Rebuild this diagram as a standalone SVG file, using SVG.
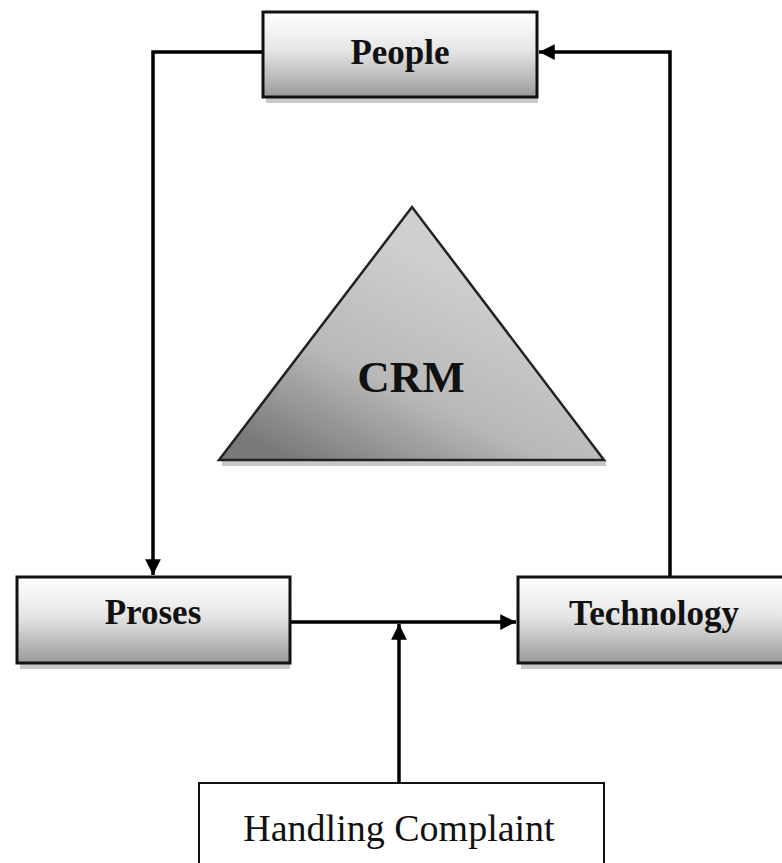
<svg xmlns="http://www.w3.org/2000/svg" width="782" height="863" viewBox="0 0 782 863">
<style>
.box{stroke:#111;stroke-width:3;fill:url(#boxg)}
.shadow{fill:#c8c8c8}
.lbl{font-family:"Liberation Serif","Times New Roman",serif;font-weight:bold;font-size:35px;fill:#111;text-anchor:middle}
.con{stroke:#000;stroke-width:3.5;fill:none}
</style>
<defs>
<linearGradient id="boxg" x1="0" y1="0" x2="0" y2="1">
<stop offset="0" stop-color="#ffffff"/>
<stop offset="0.45" stop-color="#e6e6e6"/>
<stop offset="1" stop-color="#9a9a9a"/>
</linearGradient>
<linearGradient id="trig" x1="0.2" y1="1" x2="0.7" y2="0.3">
<stop offset="0" stop-color="#7a7a7a"/>
<stop offset="0.45" stop-color="#b8b8b8"/>
<stop offset="1" stop-color="#cfcfcf"/>
</linearGradient>
<marker id="ah" viewBox="0 0 10 10" refX="10" refY="5" markerWidth="4.5" markerHeight="4.5" orient="auto" markerUnits="strokeWidth">
<path d="M0,0 L10,5 L0,10 z" fill="#000"/>
</marker>
</defs>
<g id="connectors">
<path class="con" d="M263,52 H153 V575" marker-end="url(#ah)"/>
<path class="con" d="M670,577 V52 H539" marker-end="url(#ah)"/>
<path class="con" d="M290,622 H516" marker-end="url(#ah)"/>
<path class="con" d="M399,783 V624" marker-end="url(#ah)"/>
</g>
<g id="people">
<rect class="shadow" x="266" y="97" width="272" height="6"/>
<rect class="box" x="263" y="12" width="274" height="85"/>
<text class="lbl" x="400" y="64">People</text>
</g>
<g id="crm">
<rect class="shadow" x="222" y="460" width="384" height="6"/>
<polygon points="412,207 219,460 604,460" fill="url(#trig)" stroke="#222" stroke-width="2.5"/>
<text class="lbl" x="411" y="392" style="font-size:45px">CRM</text>
</g>
<g id="proses">
<rect class="shadow" x="20" y="663" width="270" height="6"/>
<rect class="box" x="17" y="577" width="273" height="86"/>
<text class="lbl" x="153" y="624">Proses</text>
</g>
<g id="technology">
<rect class="shadow" x="521" y="663" width="261" height="6"/>
<rect class="box" x="518" y="577" width="270" height="86"/>
<text class="lbl" x="654" y="625">Technology</text>
</g>
<g id="handling">
<rect x="199" y="783" width="405" height="90" fill="#fff" stroke="#111" stroke-width="2"/>
<text x="399" y="841" text-anchor="middle" font-family="Liberation Serif, Times New Roman, serif" font-size="38" fill="#111">Handling Complaint</text>
</g>
</svg>
